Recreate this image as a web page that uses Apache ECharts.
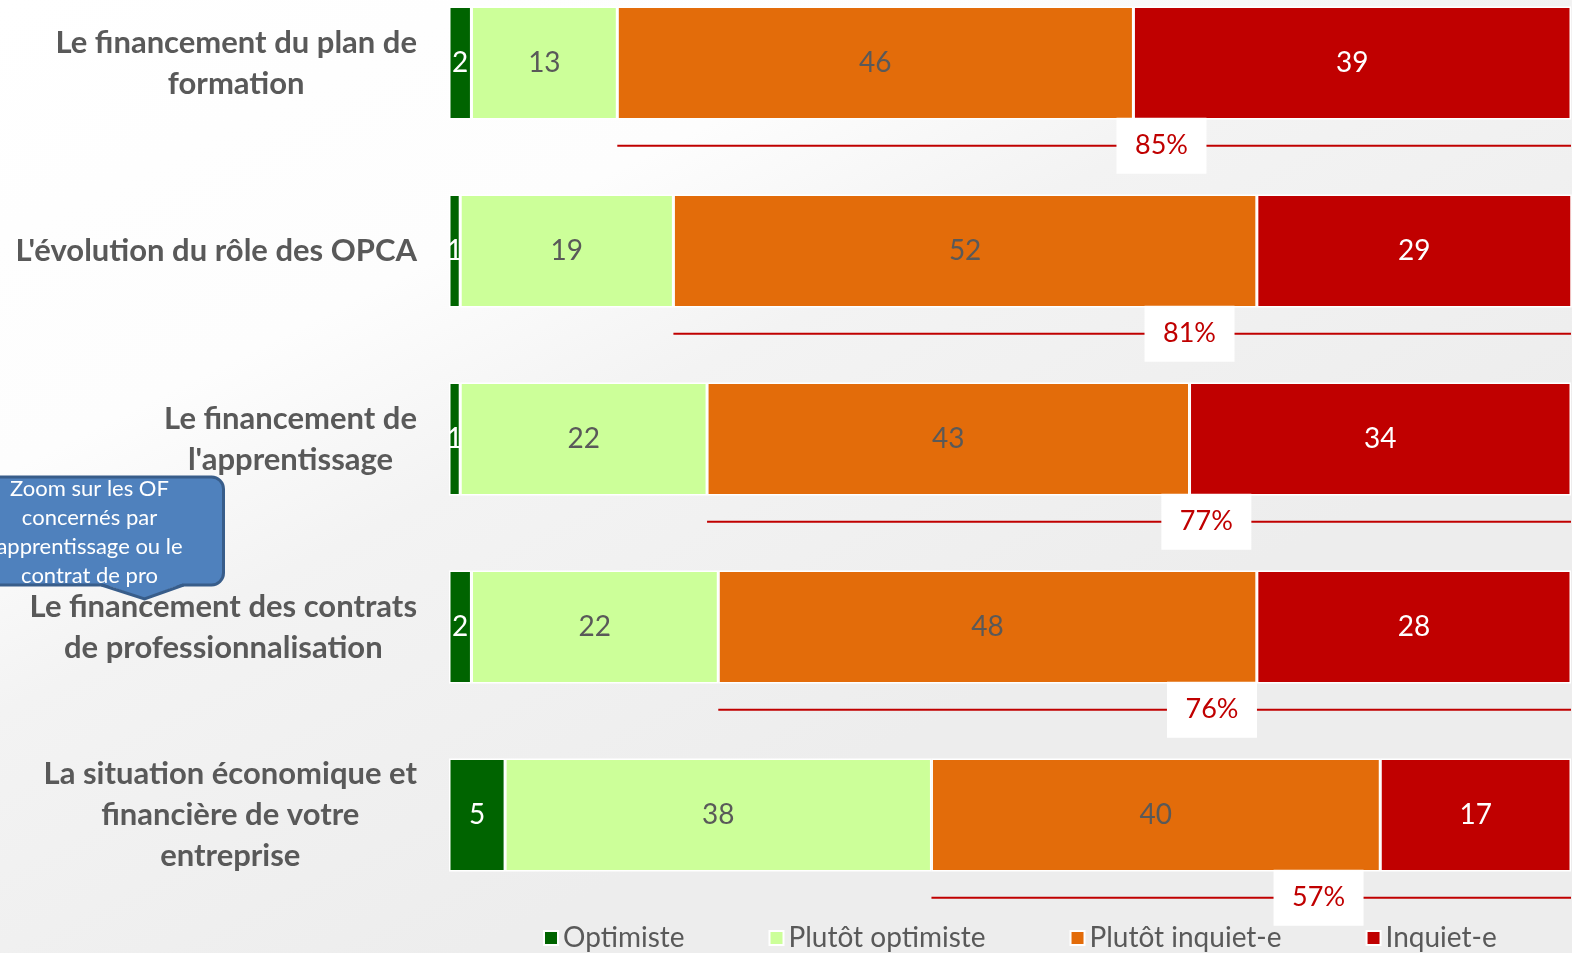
<!DOCTYPE html>
<html>
<head>
<meta charset="utf-8">
<script src="https://cdn.jsdelivr.net/npm/echarts@6/dist/echarts.min.js"></script>
<style>
  html, body { margin: 0; padding: 0; }
  #main { width: 1572px; height: 953px; }
</style>
</head>
<body>
<div id="main"></div>
<script type="text/javascript">
// catégories (de haut en bas)
var categories = [
  'Le financement du plan de\nformation',
  "L'évolution du rôle des OPCA",
  "Le financement de\nl'apprentissage",
  'Le financement des contrats\nde professionnalisation',
  'La situation économique et\nfinancière de votre\nentreprise'
];
var seriesNames = ['Optimiste', 'Plutôt optimiste', 'Plutôt inquiet-e', 'Inquiet-e'];
var optimiste = [2, 1, 1, 2, 5];
var plutotOptimiste = [13, 19, 22, 22, 38];
var plutotInquiet = [46, 52, 43, 48, 40];
var inquiet = [39, 29, 34, 28, 17];
// total inquiets
var totalInquiet = [85, 81, 77, 76, 57];

var colors = ['#006400', '#ccff99', '#e36c0a', '#c00000'];
var labelColors = ['#ffffff', '#595959', '#595959', '#ffffff'];
var values = [optimiste, plutotOptimiste, plutotInquiet, inquiet];

var chart = echarts.init(document.getElementById('main'));

var barSeries = seriesNames.map(function (name, i) {
  return {
    name: name,
    type: 'bar',
    stack: 'total',
    barWidth: '60%',
    data: values[i],
    itemStyle: { color: colors[i], borderColor: '#ffffff', borderWidth: 1.5 },
    label: {
      show: true,
      position: 'inside',
      color: labelColors[i],
      fontFamily: 'Lato',
      fontSize: 28
    }
  };
});

// lignes rouges + total
var totalData = categories.map(function (c, i) {
  return [optimiste[i] + plutotOptimiste[i], i, totalInquiet[i]];
});

barSeries.push({
  type: 'custom',
  name: 'total',
  data: totalData,
  encode: { x: 0, y: 1 },
  z: 5,
  silent: true,
  renderItem: function (params, api) {
    var start = api.coord([api.value(0), api.value(1)]);
    var end = api.coord([100, api.value(1)]);
    var band = api.size([0, 1])[1];
    var y = start[1] + band * 0.44;
    var mid = api.coord([(api.value(0) + 100) / 2 + 6, api.value(1)]);
    return {
      type: 'group',
      children: [
        { type: 'line', shape: { x1: start[0], y1: y, x2: end[0], y2: y },
          style: { stroke: '#c00000', lineWidth: 2 } },
        { type: 'rect', shape: { x: mid[0] - 45, y: y - 28, width: 90, height: 56 },
          style: { fill: '#ffffff' } },
        { type: 'text', x: mid[0], y: y,
          style: { text: api.value(2) + '%', fill: '#c00000', font: '27px Lato',
                   align: 'center', verticalAlign: 'middle' } }
      ]
    };
  }
});

var option = {
  backgroundColor: {
    type: 'linear', x: 0, y: 0, x2: 0.3, y2: 1,
    colorStops: [
      { offset: 0, color: '#ffffff' },
      { offset: 0.4, color: '#fdfdfd' },
      { offset: 0.6, color: '#f3f3f3' },
      { offset: 1, color: '#ededed' }
    ]
  },
  animation: false,
  grid: { left: 449, width: 1122, top: -31, height: 940, outerBoundsMode: 'none', containLabel: false },
  xAxis: {
    type: 'value', min: 0, max: 100, show: false
  },
  yAxis: {
    type: 'category',
    inverse: true,
    data: categories,
    axisLine: { show: false },
    axisTick: { show: false },
    axisLabel: {
      margin: 32,
      align: 'right',
      formatter: function (v) {
        return v.split('\n').map(function (s) { return '{c|' + s + '}'; }).join('\n');
      },
      rich: {
        c: { align: 'center', fontFamily: 'Lato', fontWeight: 'bold', fontSize: 31,
             color: '#595959', lineHeight: 41 }
      }
    }
  },
  legend: {
    data: seriesNames,
    left: 538,
    bottom: -4,
    icon: 'rect',
    itemWidth: 14,
    itemHeight: 14,
    itemGap: 84,
    textStyle: { fontFamily: 'Lato', fontSize: 28, color: '#595959' }
  },
  graphic: [
    {
      type: 'group',
      left: -40, top: 474,
      children: [
        { type: 'rect', shape: { x: 0, y: 2, width: 262, height: 108, r: 12 },
          style: { fill: '#4f81bd', stroke: '#385d8a', lineWidth: 3 } },
        { type: 'polygon', shape: { points: [[140, 108], [222, 108], [183, 124]] },
          style: { fill: '#4f81bd' } },
        { type: 'polyline', shape: { points: [[140, 110], [183, 124], [222, 110]] },
          style: { stroke: '#385d8a', lineWidth: 3, fill: null } },
        { type: 'text', x: 128, y: 57,
          style: { text: 'Zoom sur les OF\nconcernés par\napprentissage ou le\ncontrat de pro',
                   fill: '#ffffff', font: '22px Lato', align: 'center', verticalAlign: 'middle',
                   lineHeight: 29 } }
      ]
    }
  ],
  series: barSeries
};

chart.setOption(option);
</script>
</body>
</html>
